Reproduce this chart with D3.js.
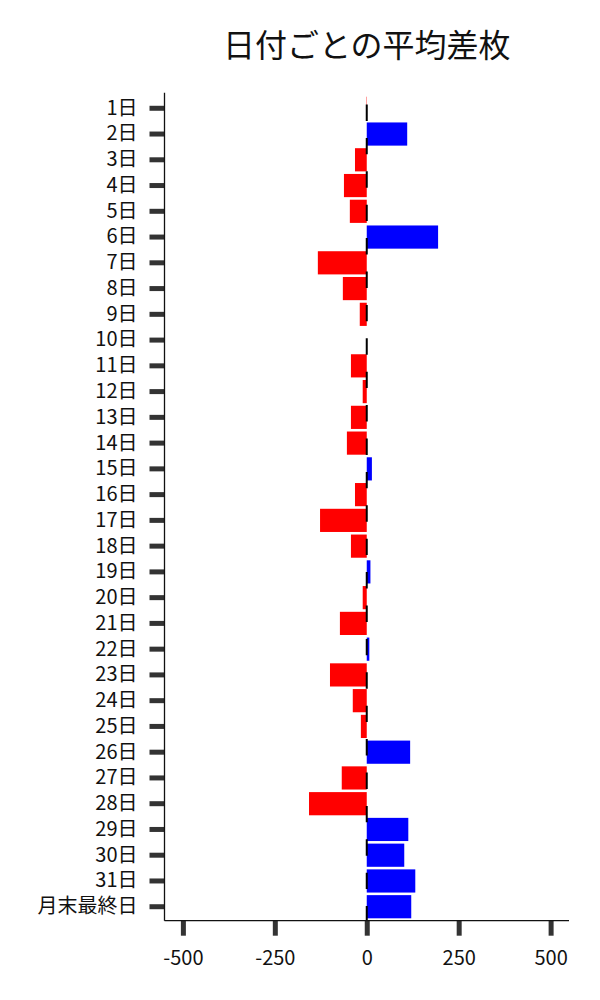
<!DOCTYPE html>
<html>
<head>
<meta charset="utf-8">
<script src="https://cdn.jsdelivr.net/npm/d3@7"></script>
<style>
  body { margin: 0; background: #fff; }
  svg { display: block; }
  text { font-family: "Noto Sans CJK JP", "Noto Sans", sans-serif; }
</style>
</head>
<body>
<svg id="chart" width="600" height="1000"></svg>
<script>
const title = "日付ごとの平均差枚";
const categories = ["1日","2日","3日","4日","5日","6日","7日","8日","9日","10日",
  "11日","12日","13日","14日","15日","16日","17日","18日","19日","20日",
  "21日","22日","23日","24日","25日","26日","27日","28日","29日","30日","31日","月末最終日"];
const values = [-1, 110, -32, -62, -46, 194, -133, -65, -19, 0,
  -43, -11, -43, -54, 14, -32, -127, -43, 10, -11,
  -73, 7, -100, -38, -16, 118, -68, -157, 113, 102, 132, 121];
const xTicks = [-500, -250, 0, 250, 500];
const xTickLabels = ["-500", "-250", "0", "250", "500"];

const svg = d3.select("#chart");
const plot = {left: 164.5, right: 569, top: 92.7, bottom: 920.7};

const x = d3.scaleLinear().domain([-550, 550]).range([plot.left, plot.right]);
const y = d3.scaleBand().domain(categories).range([95.4, 919.6])
  .paddingInner(0.1).paddingOuter(0.05);

// title
svg.append("text")
  .attr("x", (plot.left + plot.right) / 2)
  .attr("y", 43)
  .attr("text-anchor", "middle")
  .attr("dominant-baseline", "central")
  .attr("font-size", 32)
  .attr("fill", "#111")
  .text(title);

// bars
svg.append("g").selectAll("rect")
  .data(categories.map((c, i) => ({c, v: values[i]})))
  .join("rect")
  .attr("x", d => x(Math.min(0, d.v)))
  .attr("width", d => Math.abs(x(d.v) - x(0)))
  .attr("y", d => y(d.c))
  .attr("height", y.bandwidth())
  .attr("fill", d => d.v >= 0 ? "#0000ff" : "#ff0000");

// dashed zero line
svg.append("line")
  .attr("x1", x(0)).attr("x2", x(0))
  .attr("y1", plot.top).attr("y2", plot.bottom)
  .attr("stroke", "#000").attr("stroke-width", 2)
  .attr("stroke-dasharray", "16.4,17")
  .attr("stroke-dashoffset", 21.6);

// y axis
const yAxis = svg.append("g")
  .attr("transform", `translate(${plot.left},0)`)
  .call(d3.axisLeft(y).tickSize(15).tickPadding(12).tickSizeOuter(0));
yAxis.select(".domain").remove();
yAxis.selectAll(".tick line").attr("stroke", "#333").attr("stroke-width", 5);
yAxis.selectAll(".tick text").attr("font-size", 20).attr("fill", "#111")
  .style("font-family", '"Noto Sans CJK JP", sans-serif');

// x axis
const xAxis = svg.append("g")
  .attr("transform", `translate(0,${plot.bottom})`)
  .call(d3.axisBottom(x).tickValues(xTicks)
    .tickFormat((d, i) => xTickLabels[i])
    .tickSize(15).tickPadding(15).tickSizeOuter(0));
xAxis.select(".domain").remove();
xAxis.selectAll(".tick line").attr("stroke", "#333").attr("stroke-width", 5);
xAxis.selectAll(".tick text").attr("font-size", 20).attr("fill", "#111")
  .style("font-family", '"Noto Sans CJK JP", sans-serif');

// spines
svg.append("line")
  .attr("x1", plot.left).attr("x2", plot.left)
  .attr("y1", plot.top).attr("y2", plot.bottom)
  .attr("stroke", "#111").attr("stroke-width", 1.3);
svg.append("line")
  .attr("x1", plot.left).attr("x2", plot.right)
  .attr("y1", plot.bottom).attr("y2", plot.bottom)
  .attr("stroke", "#111").attr("stroke-width", 1.3);
</script>
</body>
</html>
